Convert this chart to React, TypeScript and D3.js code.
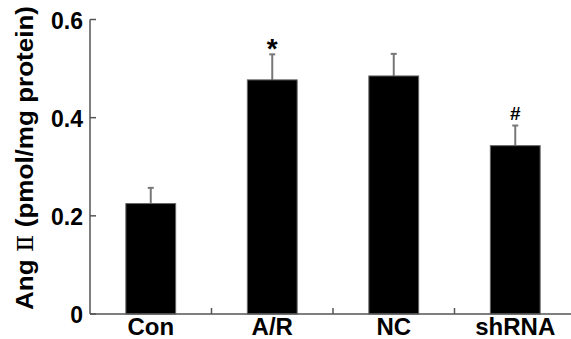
import React from "react";
import * as d3 from "d3";

const categories = ["Con", "A/R", "NC", "shRNA"];
const means = [0.225, 0.477, 0.485, 0.343];
const errors = [0.032, 0.052, 0.045, 0.041];
const marks = ["", "*", "", "#"];
const yTicks = [0, 0.2, 0.4, 0.6];

const W = 571, H = 339;
const x0 = 90, x1 = 576, yBottom = 314, yTop = 19.5;

export default function App() {
  const x = d3.scaleBand<string>().domain(categories).range([x0, x1]).paddingInner(0.59).paddingOuter(0.295);
  const xb = d3.scaleBand<string>().domain(categories).range([x0, x1]);
  const y = d3.scaleLinear().domain([0, 0.6]).range([yBottom, yTop]);
  const font = "'Liberation Sans', Arial, sans-serif";
  return (
    <svg width={W} height={H} style={{ position: "absolute", left: 0, top: 0 }}>
      <rect width={W} height={H} fill="#fff" />
      {categories.map((c, i) => {
        const bx = x(c)!;
        const bw = x.bandwidth();
        const cx = bx + bw / 2;
        return (
          <g key={c}>
            <line x1={cx} x2={cx} y1={y(means[i])} y2={y(means[i] + errors[i])} stroke="#777" strokeWidth={2} />
            <line x1={cx - 3} x2={cx + 3} y1={y(means[i] + errors[i])} y2={y(means[i] + errors[i])} stroke="#777" strokeWidth={2} />
            <rect x={bx} y={y(means[i])} width={bw} height={yBottom - y(means[i])} fill="#000" stroke="#666" strokeWidth={1} />
            {marks[i] && (
              <text x={cx} y={y(means[i] + errors[i]) - (marks[i] === "*" ? -4 : 6)} textAnchor="middle" fontFamily={font} fontWeight="bold" fontSize={marks[i] === "*" ? 28 : 19}>{marks[i]}</text>
            )}
            <text x={cx} y={335} textAnchor="middle" fontFamily={font} fontWeight="bold" fontSize={24}>{c}</text>
          </g>
        );
      })}
      {/* axes */}
      <line x1={x0} x2={x0} y1={yTop} y2={yBottom} stroke="#555" strokeWidth={1.5} />
      <line x1={x0} x2={W} y1={yBottom} y2={yBottom} stroke="#555" strokeWidth={1.5} />
      {yTicks.map((t) => (
        <g key={t}>
          <line x1={x0} x2={x0 + 6} y1={y(t)} y2={y(t)} stroke="#555" strokeWidth={1.5} />
          <text x={83} y={y(t) + 9} textAnchor="end" fontFamily={font} fontWeight="bold" fontSize={23}>{t === 0 ? "0" : t.toFixed(1)}</text>
        </g>
      ))}
      {categories.slice(1).map((c) => (
        <line key={c} x1={xb(c)!} x2={xb(c)!} y1={yBottom} y2={yBottom - 6} stroke="#555" strokeWidth={1.5} />
      ))}
      <text transform={`translate(33,158) rotate(-90)`} textAnchor="middle" fontFamily={font} fontWeight="bold" fontSize={23} textLength={304} lengthAdjust="spacingAndGlyphs">
        Ang <tspan fontFamily="'DejaVu Serif', serif" fontWeight="normal">Ⅱ</tspan> (pmol/mg protein)
      </text>
    </svg>
  );
}
